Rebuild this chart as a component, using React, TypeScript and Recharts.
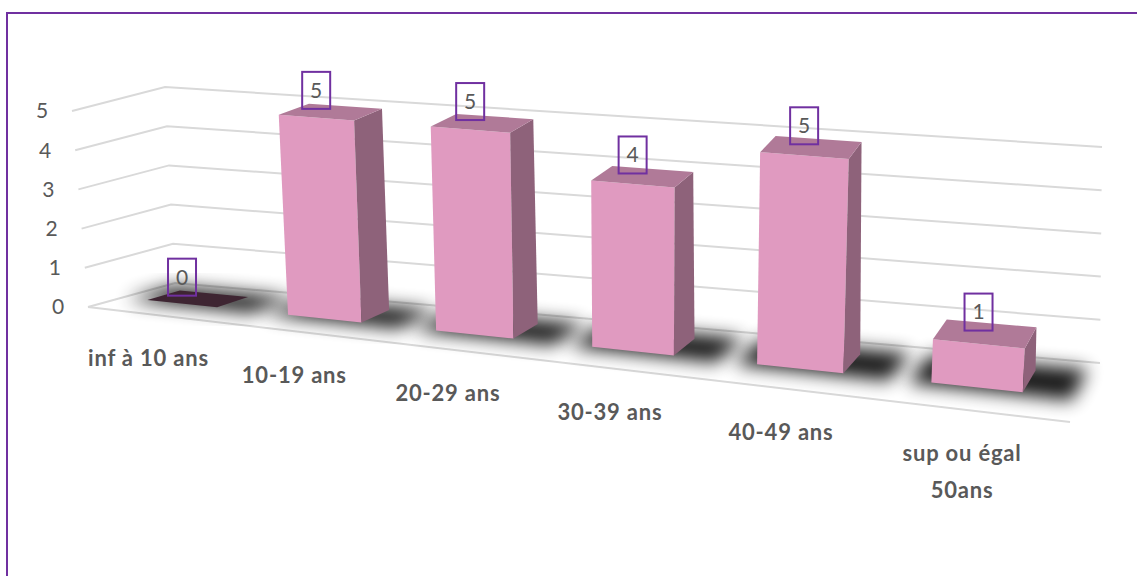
import {
  Bar,
  BarChart,
  CartesianGrid,
  LabelList,
  XAxis,
  YAxis,
} from 'recharts'

const categories = [
  'inf à 10 ans',
  '10-19 ans',
  '20-29 ans',
  '30-39 ans',
  '40-49 ans',
  'sup ou égal 50ans',
]
const counts = [0, 5, 5, 4, 5, 1]
const valueTicks = [0, 1, 2, 3, 4, 5]

const data = categories.map((name, i) => ({ name, count: counts[i] }))

const CHART_W = 1137
const CHART_H = 576
const CHART_MARGINS = { top: 40, right: 40, bottom: 40, left: 40 }
const X_AXIS_H = 30
const Y_AXIS_W = 30

const PLOT_LEFT = CHART_MARGINS.left + Y_AXIS_W
const PLOT_TOP = CHART_MARGINS.top
const PLOT_W = CHART_W - PLOT_LEFT - CHART_MARGINS.right
const PLOT_H = CHART_H - PLOT_TOP - CHART_MARGINS.bottom - X_AXIS_H
// the floor starts a little to the right of the flat plot's left edge
const FLOOR_LEFT = PLOT_LEFT + 12

const FONT = 'Lato, "Noto Sans", sans-serif'
const TEXT = '#595959'
const PURPLE = '#7030a0'
const GRID = '#d9d9d9'

// screen corners of the box the flat plot is folded into: [across][depth][up]
type Pt = [number, number]
const BOX: Pt[][][] = [
  [
    [[88, 307], [72, 111]],
    [[175, 283], [165, 87]],
  ],
  [
    [[1070, 422], [1088, 199]],
    [[1100, 363], [1102, 147]],
  ],
]
// categories spread out a little towards the right (nearer to the eye)
const SPREAD = 0.15
const BAR_FRONT = 0.4
const BAR_BACK = 0.78

const toU = (x: number) => (x - FLOOR_LEFT) / PLOT_W
const toV = (y: number) => (PLOT_TOP + PLOT_H - y) / PLOT_H

function project(u: number, d: number, v: number): Pt {
  const a = (u * (1 - SPREAD)) / (1 - SPREAD * u)
  let x = 0
  let y = 0
  for (let i = 0; i < 2; i++)
    for (let j = 0; j < 2; j++)
      for (let k = 0; k < 2; k++) {
        const w = (i ? a : 1 - a) * (j ? d : 1 - d) * (k ? v : 1 - v)
        x += w * BOX[i][j][k][0]
        y += w * BOX[i][j][k][1]
      }
  return [x, y]
}

const pts = (list: Pt[]) => list.map((p) => `${p[0]},${p[1]}`).join(' ')

const GridLine = (props: any) => {
  const v = toV(props.y1)
  const wall = [project(0, 0, v), project(0, 1, v), project(1, 1, v)]
  return (
    <g key={`grid-${props.index}`}>
      <polyline points={pts(wall)} fill="none" stroke={GRID} strokeWidth={2} />
      {Math.abs(v) < 0.001 && (
        <polyline
          points={pts([project(0, 0, 0), project(1, 0, 0)])}
          fill="none"
          stroke={GRID}
          strokeWidth={2}
        />
      )}
    </g>
  )
}

const ValueTick = (props: any) => {
  const [px, py] = project(0, 0, toV(props.y))
  return (
    <text
      x={px - 30}
      y={py}
      dy="0.35em"
      textAnchor="middle"
      fontFamily={FONT}
      fontSize={21}
      fill={TEXT}>
      {props.payload.value}
    </text>
  )
}

const splitLabel = (label: string) => {
  if (label.length <= 12) return [label]
  const cut = label.lastIndexOf(' ')
  return [label.slice(0, cut), label.slice(cut + 1)]
}

const CategoryTick = (props: any) => {
  const [px, py] = project(toU(props.x), 0, 0)
  const lines = splitLabel(props.payload.value)
  return (
    <text
      x={px}
      y={py + 44}
      textAnchor="middle"
      fontFamily={FONT}
      fontWeight="bold"
      fontSize={22}
      letterSpacing={0.8}
      fill={TEXT}>
      {lines.map((line, i) => (
        <tspan key={line} x={px} dy={i === 0 ? '0.35em' : 37}>
          {line}
        </tspan>
      ))}
    </text>
  )
}

const Box3D = (props: any) => {
  const { x, y, width, index } = props
  const u0 = toU(x)
  const u1 = toU(x + width)
  const v = Math.max(0, toV(y))
  const f0 = project(u0, BAR_FRONT, 0)
  const f1 = project(u1, BAR_FRONT, 0)
  const b1 = project(u1, BAR_BACK, 0)
  const ft0 = project(u0, BAR_FRONT, v)
  const ft1 = project(u1, BAR_FRONT, v)
  const bt1 = project(u1, BAR_BACK, v)
  const bt0 = project(u0, BAR_BACK, v)
  const shadow = [
    project(u0 - 0.02, BAR_FRONT - 0.05, 0),
    project(u1 + 0.045, BAR_FRONT - 0.05, 0),
    project(u1 + 0.045, BAR_BACK + 0.1, 0),
    project(u0 - 0.02, BAR_BACK + 0.1, 0),
  ]
  const flat = v < 0.001
  const blurId = `bar-shadow-${index}`
  return (
    <g>
      <defs>
        <filter id={blurId} x="-50%" y="-50%" width="200%" height="200%">
          <feGaussianBlur stdDeviation={9} />
        </filter>
      </defs>
      <polygon points={pts(shadow)} fill="#000" opacity={0.9} filter={`url(#${blurId})`} />
      {!flat && (
        <>
          <polygon points={pts([f0, f1, ft1, ft0])} fill="#e09ac0" />
          <polygon points={pts([f1, b1, bt1, ft1])} fill="#8e627a" />
        </>
      )}
      <polygon points={pts([ft0, ft1, bt1, bt0])} fill={flat ? '#3e2532' : '#b07a98'} />
    </g>
  )
}

const ValueTag = (props: any) => {
  const { x, y, width, value } = props
  const uc = toU(x + width / 2)
  const v = Math.max(0, toV(y))
  const [fx] = project(uc, BAR_FRONT, v)
  const [, my] = project(uc, (BAR_FRONT + BAR_BACK) / 2, v)
  const bottom = my - 3
  return (
    <g>
      <rect
        x={fx - 14}
        y={bottom - 37}
        width={28}
        height={37}
        fill="none"
        stroke={PURPLE}
        strokeWidth={2}
      />
      <text
        x={fx}
        y={bottom - 18.5}
        dy="0.35em"
        textAnchor="middle"
        fontFamily={FONT}
        fontSize={21}
        fill={TEXT}>
        {value}
      </text>
    </g>
  )
}

export default function App() {
  return (
    <div
      style={{
        position: 'absolute',
        left: 0,
        top: 0,
        width: CHART_W,
        height: CHART_H,
        overflow: 'hidden',
        background: '#fff',
      }}>
      <div
        style={{
          position: 'absolute',
          left: 6,
          top: 12,
          width: CHART_W,
          height: CHART_H,
          borderLeft: `2px solid ${PURPLE}`,
          borderTop: `2px solid ${PURPLE}`,
        }}
      />
      <div style={{ position: 'absolute', left: 0, top: 0 }}>
        <BarChart
          width={CHART_W}
          height={CHART_H}
          data={data}
          margin={CHART_MARGINS}
          barCategoryGap="25%">
          <CartesianGrid vertical={false} horizontal={GridLine} />
          <XAxis
            dataKey="name"
            height={X_AXIS_H}
            interval={0}
            axisLine={false}
            tickLine={false}
            tick={CategoryTick}
          />
          <YAxis
            width={Y_AXIS_W}
            domain={[0, 5]}
            ticks={valueTicks}
            axisLine={false}
            tickLine={false}
            tick={ValueTick}
          />
          <Bar dataKey="count" shape={Box3D} isAnimationActive={false}>
            <LabelList dataKey="count" content={ValueTag} />
          </Bar>
        </BarChart>
      </div>
    </div>
  )
}
